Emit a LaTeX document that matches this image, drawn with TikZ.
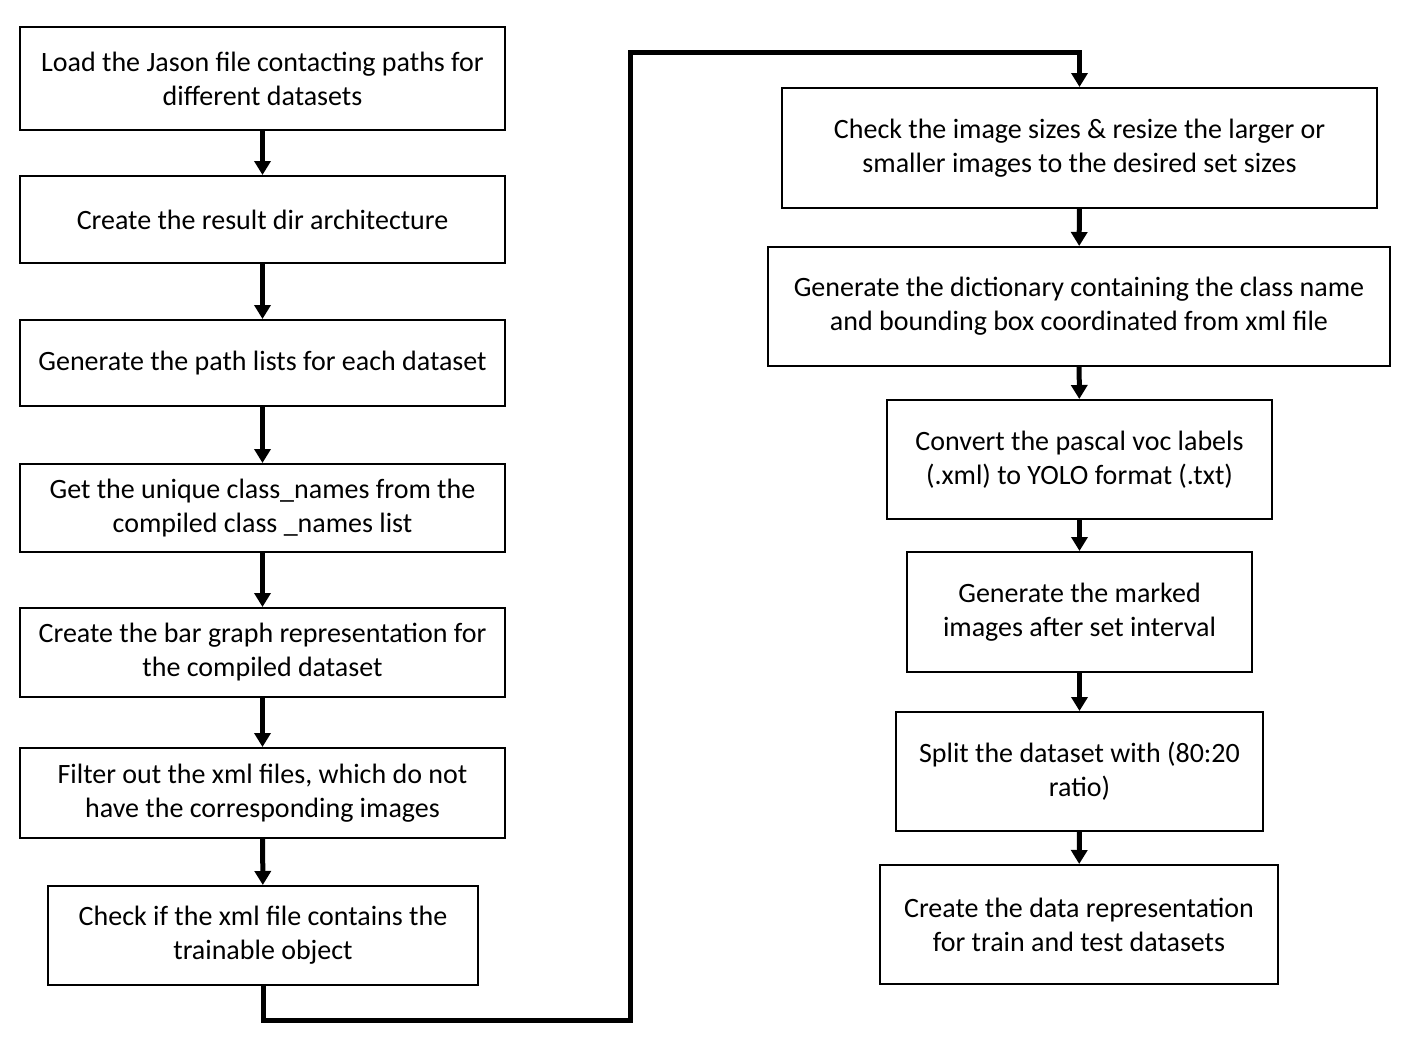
\documentclass[tikz,border=0pt]{standalone}
\usepackage{fontspec}
\setmainfont{Carlito}
\usetikzlibrary{arrows.meta}
\begin{document}
\begin{tikzpicture}[x=0.75pt,y=-0.75pt,
  box/.style 2 args={draw, line width=1.5pt, align=center, inner sep=0pt,
    minimum width=#1*0.75pt, minimum height=#2*0.75pt,
    font=\fontsize{21}{25.5}\selectfont},
  conn/.style={line width=3.75pt, line join=miter, -{Triangle[width=12pt,length=10.5pt]}}]
\useasboundingbox (0,0) rectangle (1418,1042);
\node[box={485}{103}] (b1) at (262.5,78.5) {Load the Jason file contacting paths for\\different datasets};
\node[box={485}{87}] (b2) at (262.5,219.5) {Create the result dir architecture};
\node[box={485}{86}] (b3) at (262.5,363) {Generate the path lists for each dataset};
\node[box={485}{88}] (b4) at (262.5,508) {Get the unique class\_names from the\\compiled class \_names list};
\node[box={485}{89}] (b5) at (262.5,652.5) {Create the bar graph representation for\\the compiled dataset};
\node[box={485}{90}] (b6) at (262.5,793) {Filter out the xml files, which do not\\have the corresponding images};
\node[box={430}{99}] (b7) at (263,935.5) {Check if the xml file contains the\\trainable object};
\node[box={595}{120}] (r1) at (1079.5,148) {Check the image sizes \& resize the larger or\\smaller images to the desired set sizes};
\node[box={622}{119}] (r2) at (1079,306.5) {Generate the dictionary containing the class name\\and bounding box coordinated from xml file};
\node[box={385}{119}] (r3) at (1079.5,459.5) {Convert the pascal voc labels\\(.xml) to YOLO format (.txt)};
\node[box={345}{120}] (r4) at (1079.5,612) {Generate the marked\\images after set interval};
\node[box={367}{119}] (r5) at (1079.5,771.5) {Split the dataset with (80:20\\ratio)};
\node[box={398}{119}] (r6) at (1079,924.5) {Create the data representation\\for train and test datasets};
\draw[conn] (b1) -- (b2);
\draw[conn] (b2) -- (b3);
\draw[conn] (b3) -- (b4);
\draw[conn] (b4) -- (b5);
\draw[conn] (b5) -- (b6);
\draw[conn] (b6) -- (b7);
\draw[conn] (r1) -- (r2);
\draw[conn] (r2) -- (r3);
\draw[conn] (r3) -- (r4);
\draw[conn] (r4) -- (r5);
\draw[conn] (r5) -- (r6);
\coordinate (c1) at (630,1020);
\coordinate (c2) at (630,52);
\draw[conn] (b7.south) |- (c1) -- (c2) -| (r1.north);
\end{tikzpicture}
\end{document}
